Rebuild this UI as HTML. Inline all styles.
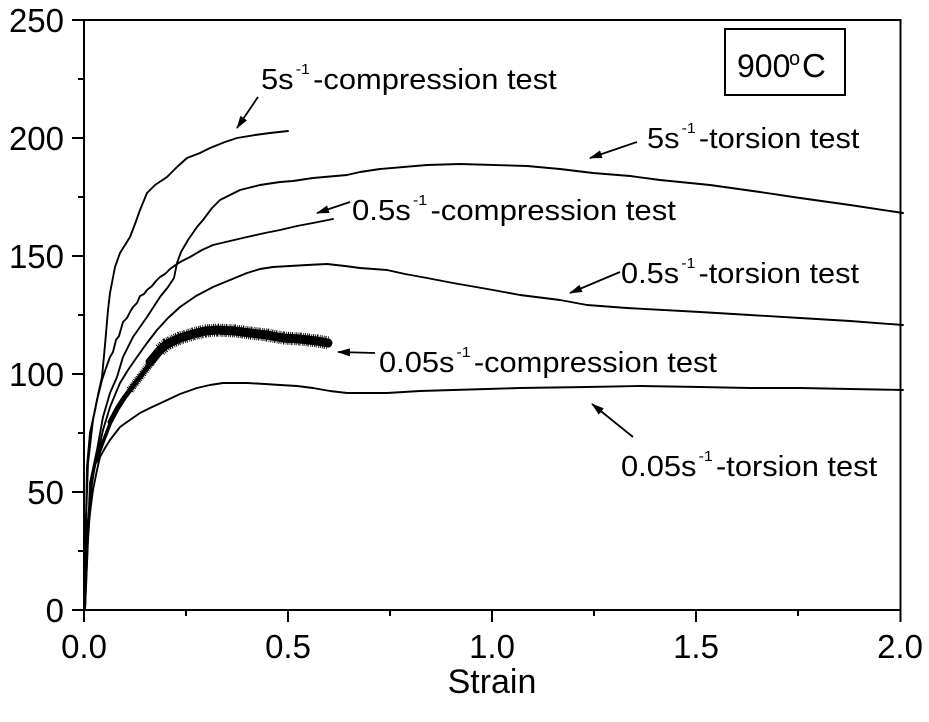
<!DOCTYPE html>
<html>
<head>
<meta charset="utf-8">
<style>
  html, body { margin:0; padding:0; background:#fff; }
  svg { display:block; }
  text { font-family: "Liberation Sans", Arial, sans-serif; fill:#000; }
</style>
</head>
<body>
<svg width="929" height="722" viewBox="0 0 929 722" xmlns="http://www.w3.org/2000/svg">
  <defs>
    <marker id="ah" markerWidth="13" markerHeight="8" refX="12" refY="4" orient="auto" markerUnits="userSpaceOnUse">
      <path d="M0,0 L13,4 L0,8 z" fill="#000"/>
    </marker>
  </defs>
  <rect x="0" y="0" width="929" height="722" fill="#fff"/>

  <!-- frame -->
  <g stroke="#000" stroke-width="2" fill="none">
    <line x1="84" y1="20" x2="900.5" y2="20"/>
    <line x1="900.5" y1="19" x2="900.5" y2="611"/>
    <line x1="84" y1="19" x2="84" y2="611"/>
    <line x1="83" y1="610" x2="901" y2="610"/>
    <!-- y major ticks -->
    <line x1="72" y1="20" x2="84" y2="20"/>
    <line x1="72" y1="138" x2="84" y2="138"/>
    <line x1="72" y1="256" x2="84" y2="256"/>
    <line x1="72" y1="374" x2="84" y2="374"/>
    <line x1="72" y1="492" x2="84" y2="492"/>
    <line x1="72" y1="610" x2="84" y2="610"/>
    <!-- y minor ticks -->
    <line x1="78" y1="79" x2="84" y2="79"/>
    <line x1="78" y1="197" x2="84" y2="197"/>
    <line x1="78" y1="315" x2="84" y2="315"/>
    <line x1="78" y1="433" x2="84" y2="433"/>
    <line x1="78" y1="551" x2="84" y2="551"/>
    <!-- x major ticks -->
    <line x1="84" y1="610" x2="84" y2="622"/>
    <line x1="288" y1="610" x2="288" y2="622"/>
    <line x1="492" y1="610" x2="492" y2="622"/>
    <line x1="696" y1="610" x2="696" y2="622"/>
    <line x1="900.5" y1="610" x2="900.5" y2="622"/>
    <!-- x minor ticks -->
    <line x1="186" y1="610" x2="186" y2="616"/>
    <line x1="390" y1="610" x2="390" y2="616"/>
    <line x1="594" y1="610" x2="594" y2="616"/>
    <line x1="798" y1="610" x2="798" y2="616"/>
  </g>

  <!-- y tick labels -->
  <g font-size="33" text-anchor="end">
    <text x="64" y="32">250</text>
    <text x="64" y="150">200</text>
    <text x="64" y="268">150</text>
    <text x="64" y="386">100</text>
    <text x="64" y="504">50</text>
    <text x="64" y="622">0</text>
  </g>
  <!-- x tick labels -->
  <g font-size="33" text-anchor="middle">
    <text x="84" y="658">0.0</text>
    <text x="288" y="658">0.5</text>
    <text x="492" y="658">1.0</text>
    <text x="696" y="658">1.5</text>
    <text x="900" y="658">2.0</text>
  </g>
  <text x="492" y="693" font-size="34" text-anchor="middle">Strain</text>

  <!-- curves -->
  <g stroke="#000" stroke-width="1.9" fill="none" stroke-linejoin="round" stroke-linecap="round">
    <!-- 5 s-1 compression -->
    <polyline points="85,610 85,560 86,520 88,463 93,420 98,395 102,377 105,345 108,310 110,293 115,267 120,253 130,237 135,224 140,210 147,193 155,185 167,177 177,167 187,158 200,153 210,148 225,142 237,138 255,135 270,133 288,131"/>
    <!-- 5 s-1 torsion -->
    <polyline points="85,610 87,560 90,483 97,450 103,417 110,393 117,377 123,357 133,337 147,317 160,297 168,287 174,278 177,263 181,252 188,240 197,227 203,220 212,208 220,200 230,195 240,190 260,185 280,182 293,181 313,178 347,175 360,172 380,169 427,165 460,164 527,166 560,169 593,173 630,176 660,180 710,185 760,192 800,198 850,205 903,213"/>
    <!-- 0.5 s-1 compression (jagged) -->
    <polyline points="85,610 86,520 87,467 90,433 95,410 97,400 102,380 106,368 110,357 113,352 116,340 119,336 123,322 127,318 130,312 133,307 137,303 140,296 144,294 147,290 152,286 156,281 160,277 165,274 170,269 177,264 182,261 190,257 202,250 213,245 230,241 247,237 265,233 280,230 297,226 313,223 323,221 333,219"/>
    <!-- 0.5 s-1 torsion -->
    <polyline points="85,610 88,540 92,480 97,457 103,430 110,407 120,383 128,370 137,357 147,343 157,330 168,318 180,307 196,296 213,287 230,280 247,273 260,269 273,267 290,266 307,265 327,264 345,266 360,268 387,270 405,274 427,278 453,283 493,290 520,295 560,300 587,305 627,308 700,312 750,315 800,318 850,321 903,325"/>
    <!-- 0.05 s-1 torsion -->
    <polyline points="85,610 85,587 88,530 91,505 93,490 97,470 100,457 105,448 110,440 120,427 127,422 140,413 150,408 163,402 180,394 197,388 210,385 223,383 247,383 265,384 280,385 297,386 313,388 330,391 347,393 367,393 387,393 420,391 453,390 487,389 520,388 587,387 640,386 700,387 750,388 800,388 850,389 903,390"/>
    <!-- 0.05 s-1 compression thin base -->
    <polyline points="85,610 86,560 88,520 91,490 95,465 100,450 107,430"/>
  </g>
  <!-- 0.05 s-1 compression thick noisy band -->
  <g stroke="#000" fill="none" stroke-linejoin="round" stroke-linecap="round">
    <polyline stroke-width="3.5" points="96,462 100,450 105,437 110,424 117,410"/>
    <polyline stroke-width="5" points="110,422 117,409 124,398 130,390 140,377 150,364 158,354"/>
    <polyline stroke-width="9" points="150,362 160,350 167,344 180,338 193,334 205,331 217,330 235,331 250,333 267,335 283,338 300,339 317,341 328,343"/>
    <polyline stroke-width="13" stroke-linecap="butt" stroke-dasharray="1 1.2 0.8 0.9 1.2 1.5 0.7 1" points="160,350 167,344 180,338 193,334 205,331 217,330 235,331 250,333 267,335 283,338 300,339 317,341 329,343"/>
    <polyline stroke-width="8" stroke-linecap="butt" stroke-dasharray="1 1 0.8 1.3" points="130,390 140,377 150,364 160,350"/>
  </g>

  <!-- arrows -->
  <g stroke="#000" stroke-width="1.8" fill="none" marker-end="url(#ah)">
    <line x1="258" y1="97" x2="237" y2="128"/>
    <line x1="637" y1="142" x2="590" y2="158"/>
    <line x1="350" y1="202" x2="317" y2="213"/>
    <line x1="620" y1="272" x2="570" y2="293"/>
    <line x1="375" y1="353" x2="338" y2="352"/>
    <line x1="633" y1="437" x2="592" y2="404"/>
  </g>

  <!-- annotation labels -->
  <g font-size="29">
    <text transform="translate(261,89) scale(1.065,1)">5s<tspan font-size="15" dy="-15" dx="2">-1</tspan><tspan font-size="29" dy="15" dx="3">-compression test</tspan></text>
    <text transform="translate(647,148) scale(1.06,1)">5s<tspan font-size="15" dy="-15" dx="2">-1</tspan><tspan font-size="29" dy="15" dx="3">-torsion test</tspan></text>
    <text transform="translate(352,220) scale(1.073,1)">0.5s<tspan font-size="15" dy="-15" dx="2">-1</tspan><tspan font-size="29" dy="15" dx="3">-compression test</tspan></text>
    <text transform="translate(621,283) scale(1.06,1)">0.5s<tspan font-size="15" dy="-15" dx="2">-1</tspan><tspan font-size="29" dy="15" dx="3">-torsion test</tspan></text>
    <text transform="translate(379,372) scale(1.063,1)">0.05s<tspan font-size="15" dy="-15" dx="2">-1</tspan><tspan font-size="29" dy="15" dx="3">-compression test</tspan></text>
    <text transform="translate(621,476) scale(1.064,1)">0.05s<tspan font-size="15" dy="-15" dx="2">-1</tspan><tspan font-size="29" dy="15" dx="3">-torsion test</tspan></text>
  </g>

  <!-- 900°C box -->
  <rect x="725" y="29" width="120" height="66" fill="none" stroke="#000" stroke-width="2"/>
  <text x="737" y="77" font-size="32">900</text>
  <text x="789" y="65" font-size="20">o</text>
  <text x="802" y="77" font-size="33">C</text>
</svg>
</body>
</html>
